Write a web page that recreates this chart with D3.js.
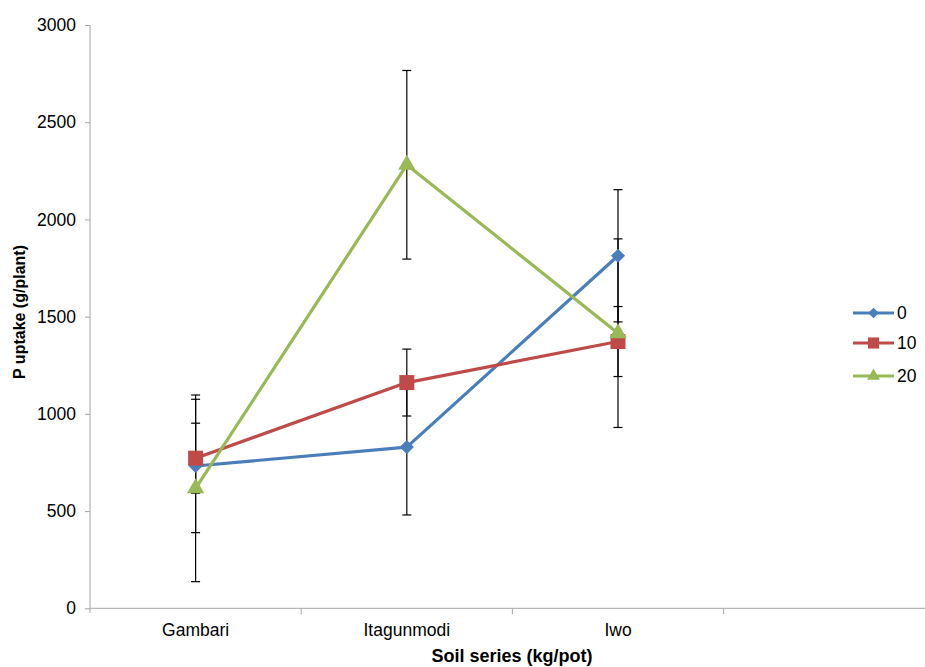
<!DOCTYPE html>
<html>
<head>
<meta charset="utf-8">
<script src="https://cdn.jsdelivr.net/npm/d3@7"></script>
<style>
  body { margin: 0; background: #fff; }
  svg text { font-family: "Liberation Sans", Arial, sans-serif; fill: #000; }
</style>
</head>
<body>
<div class="chart"></div>
<script>
// values
var soils = ["Gambari", "Itagunmodi", "Iwo", ""];
var seriesNames = ["0", "10", "20"];
var p0 = [732, 829, 1813];
var p10 = [772, 1161, 1372];
var p20 = [617, 2281, 1415];
var err0 = [343, 349, 340];
var err10 = [180, 172, 180];
var err20 = [480, 485, 485];
var yTicks = [0, 500, 1000, 1500, 2000, 2500, 3000];

var colors = ["#4A7EBB", "#BE4B48", "#98B954"];
var shapes = ["diamond", "square", "triangle"];

var series = [
  { name: seriesNames[0], values: p0, errs: err0 },
  { name: seriesNames[1], values: p10, errs: err10 },
  { name: seriesNames[2], values: p20, errs: err20 }
];

const width = 925;
const height = 667;

var svg = d3.select("div.chart")
  .append("svg")
  .attr("width", width)
  .attr("height", height);

var x = d3.scaleBand()
  .domain(soils)
  .range([90, 934.8]);

var y = d3.scaleLinear()
  .domain([0, 3000])
  .range([608.3, 25]);

// y axis
var yAxis = svg.append("g")
  .attr("transform", "translate(90,0)")
  .call(d3.axisLeft(y).tickValues(yTicks).tickFormat(d3.format("d")).tickSize(5).tickPadding(9));
yAxis.selectAll("path, line").attr("stroke", "#A6A6A6");
yAxis.selectAll("text").style("font-size", "17.5px");
yAxis.select(".domain").attr("d", "M0,25V613");

// x axis (ticks between categories)
var xg = svg.append("g").attr("transform", "translate(0,608.3)");
xg.append("line")
  .attr("x1", 90).attr("x2", 934.8)
  .attr("stroke", "#A6A6A6");
xg.selectAll("line.tick")
  .data(soils)
  .enter().append("line")
  .attr("class", "tick")
  .attr("x1", function(d) { return x(d) + x.bandwidth(); })
  .attr("x2", function(d) { return x(d) + x.bandwidth(); })
  .attr("y1", 0).attr("y2", 6)
  .attr("stroke", "#A6A6A6");
xg.selectAll("text")
  .data(soils)
  .enter().append("text")
  .attr("x", function(d) { return x(d) + x.bandwidth() / 2; })
  .attr("y", 28)
  .attr("text-anchor", "middle")
  .style("font-size", "17.5px")
  .text(function(d) { return d; });

// axis titles
svg.append("text")
  .attr("x", 512)
  .attr("y", 662)
  .attr("text-anchor", "middle")
  .style("font-size", "18px")
  .style("font-weight", "bold")
  .text("Soil series (kg/pot)");

svg.append("text")
  .attr("transform", "translate(25,312) rotate(-90)")
  .attr("text-anchor", "middle")
  .style("font-size", "16px")
  .style("font-weight", "bold")
  .text("P uptake (g/plant)");

function cx(i) { return x(soils[i]) + x.bandwidth() / 2; }

function symbolPath(shape, scale) {
  if (shape == "diamond") return d3.symbol().type(d3.symbolSquare).size(100 * scale)();
  if (shape == "square") return d3.symbol().type(d3.symbolSquare).size(225 * scale)();
  return d3.symbol().type(d3.symbolTriangle).size(130 * scale)();
}

// error bars
series.forEach(function(s) {
  var eb = svg.append("g").attr("stroke", "#000").attr("stroke-width", 1.2);
  s.values.forEach(function(v, i) {
    var top = y(v + s.errs[i]), bot = y(v - s.errs[i]);
    eb.append("line").attr("x1", cx(i)).attr("x2", cx(i)).attr("y1", top).attr("y2", bot);
    eb.append("line").attr("x1", cx(i) - 4.5).attr("x2", cx(i) + 4.5).attr("y1", top).attr("y2", top);
    eb.append("line").attr("x1", cx(i) - 4.5).attr("x2", cx(i) + 4.5).attr("y1", bot).attr("y2", bot);
  });
});

var line = d3.line()
  .x(function(d, i) { return cx(i); })
  .y(function(d) { return y(d); });

series.forEach(function(s, k) {
  svg.append("path")
    .datum(s.values)
    .attr("fill", "none")
    .attr("stroke", colors[k])
    .attr("stroke-width", 3.2)
    .attr("stroke-linejoin", "round")
    .attr("d", line);

  svg.selectAll("path.m" + k)
    .data(s.values)
    .enter().append("path")
    .attr("class", "m" + k)
    .attr("fill", colors[k])
    .attr("d", symbolPath(shapes[k], 1))
    .attr("transform", function(d, i) {
      return "translate(" + cx(i) + "," + y(d) + ")" + (shapes[k] == "diamond" ? " rotate(45)" : "");
    });
});

// legend
var legendY = [313, 343, 376];
var legend = svg.selectAll(".legend")
  .data(series)
  .enter().append("g")
  .attr("class", "legend")
  .attr("transform", function(d, i) { return "translate(853," + legendY[i] + ")"; });

legend.append("line")
  .attr("x1", 0).attr("x2", 41)
  .attr("stroke", function(d, i) { return colors[i]; })
  .attr("stroke-width", 3.2);

legend.append("path")
  .attr("fill", function(d, i) { return colors[i]; })
  .attr("d", function(d, i) { return symbolPath(shapes[i], 0.55); })
  .attr("transform", function(d, i) { return "translate(20.5,0)" + (shapes[i] == "diamond" ? " rotate(45)" : ""); });

legend.append("text")
  .attr("x", 44)
  .attr("y", 6)
  .style("font-size", "17.5px")
  .text(function(d) { return d.name; });
</script>
</body>
</html>
